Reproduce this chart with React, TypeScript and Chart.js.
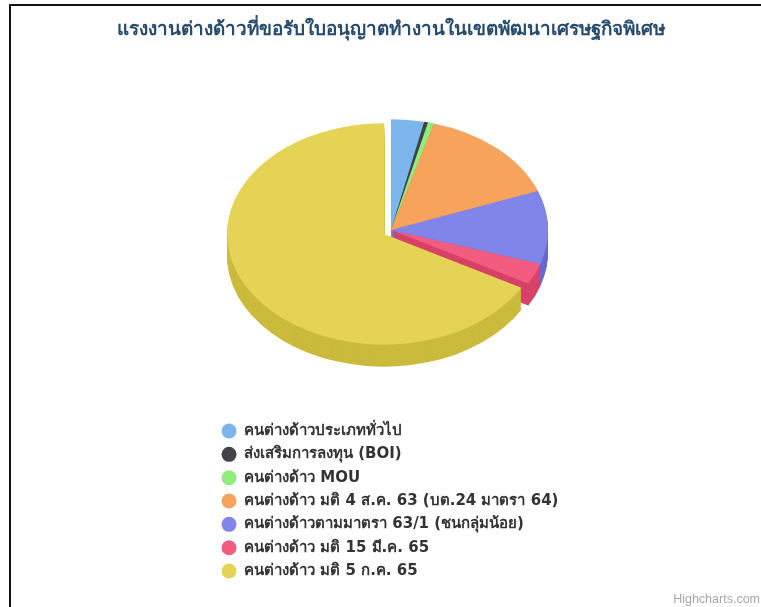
import React, { useEffect, useRef } from "react";
import { Chart, registerables } from "chart.js";

Chart.register(...registerables);

const titleText = "แรงงานต่างด้าวที่ขอรับใบอนุญาตทำงานในเขตพัฒนาเศรษฐกิจพิเศษ";
const creditText = "Highcharts.com";
const categories = [
  "คนต่างด้าวประเภททั่วไป",
  "ส่งเสริมการลงทุน (BOI)",
  "คนต่างด้าว MOU",
  "คนต่างด้าว มติ 4 ส.ค. 63 (บต.24 มาตรา 64)",
  "คนต่างด้าวตามมาตรา 63/1 (ชนกลุ่มน้อย)",
  "คนต่างด้าว มติ 15 มี.ค. 65",
  "คนต่างด้าว มติ 5 ก.ค. 65",
];
const values = [3.4, 0.4, 0.6, 14.9, 10.7, 3.1, 67.0];
const sliceOffsets = [0, 0, 0, 0, 0, 0, 8];
const topColors = ["#7cb5ec", "#434348", "#90ed7d", "#f7a35c", "#8085e9", "#f15c80", "#e4d354"];
const wallColors = ["#629bd2", "#2a2a2f", "#76d363", "#dd8942", "#666bcf", "#d74266", "#cabb3c"];

const SQUASH = 0.705;
const DEPTH = 22;

const legendPlacement = {
  id: "legendPlacement",
  beforeLayout(chart: any) {
    const legend = chart.legend;
    if (legend && !legend.__patched) {
      legend.__patched = true;
      const fit = legend.fit.bind(legend);
      legend.fit = () => {
        fit();
        legend.width = 0;
      };
    }
  },
  beforeDraw(chart: any) {
    const legend = chart.legend;
    legend.left = 213.2;
    legend.right = 760;
    legend.top = 415.2;
    legend.bottom = 600;
  },
};

const pie3d = {
  id: "pie3d",
  beforeDatasetDraw(chart: any, args: any) {
    const ctx = chart.ctx;
    const arcs: any[] = args.meta.data;
    const face = (arc: any, lift: number) => {
      const off = arc.options.offset || 0;
      const mid = (arc.startAngle + arc.endAngle) / 2;
      ctx.save();
      ctx.translate(arc.x + Math.cos(mid) * off, arc.y + Math.sin(mid) * off + lift);
      ctx.scale(1, SQUASH);
      ctx.beginPath();
      ctx.moveTo(0, 0);
      ctx.arc(0, 0, arc.outerRadius, arc.startAngle, arc.endAngle);
      ctx.closePath();
      ctx.fill();
      ctx.restore();
    };
    const solid = (list: any[]) => {
      for (let d = DEPTH; d > 0; d--) {
        list.forEach((arc) => {
          ctx.fillStyle = wallColors[arcs.indexOf(arc)];
          face(arc, d);
        });
      }
      list.forEach((arc) => {
        ctx.fillStyle = topColors[arcs.indexOf(arc)];
        face(arc, 0);
      });
    };
    solid(arcs.filter((a) => !a.options.offset));
    arcs.filter((a) => a.options.offset).forEach((a) => solid([a]));
    return false;
  },
};

export default function App() {
  const ref = useRef<HTMLCanvasElement>(null);
  useEffect(() => {
    const chart = new Chart(ref.current!, {
      type: "pie",
      data: {
        labels: categories,
        datasets: [
          {
            data: values,
            backgroundColor: topColors,
            borderWidth: 0,
            offset: sliceOffsets,
          },
        ],
      },
      options: {
        animation: false,
        responsive: false,
        radius: 157,
        layout: { padding: { left: 22, right: 0, top: 0, bottom: 0 } },
        plugins: {
          tooltip: { enabled: false },
          title: {
            display: true,
            text: titleText,
            color: "#274b6d",
            font: { size: 18.9, weight: "bold", family: "'DejaVu Sans', 'Noto Sans', sans-serif" },
            padding: { top: 18.3, bottom: 11.8 },
          },
          subtitle: {
            display: true,
            position: "bottom",
            align: "end",
            text: creditText,
            color: "#a8a8a8",
            font: { size: 12.5, family: "'Liberation Sans', sans-serif" },
            padding: { top: 185, bottom: 0 },
          },
          legend: {
            display: true,
            position: "left",
            align: "start",
            labels: {
              usePointStyle: true,
              pointStyle: "circle",
              boxWidth: 15,
              boxHeight: 10.6,
              padding: 8.33,
              color: "#333333",
              font: { size: 15, weight: "bold", family: "'DejaVu Sans', 'Noto Sans', sans-serif" },
            },
          },
        },
      },
      plugins: [legendPlacement, pie3d],
    } as any);
    return () => chart.destroy();
  }, []);
  return (
    <div style={{ position: "absolute", left: 0, top: 0, width: 761, height: 607, background: "#fff", overflow: "hidden" }}>
      <div
        style={{
          position: "absolute",
          left: 9,
          top: 4,
          right: 0,
          bottom: 0,
          borderLeft: "2px solid #111",
          borderTop: "2px solid #111",
        }}
      />
      <canvas ref={ref} width={760} height={607} style={{ position: "absolute", left: 0, top: 0 }} />
    </div>
  );
}
